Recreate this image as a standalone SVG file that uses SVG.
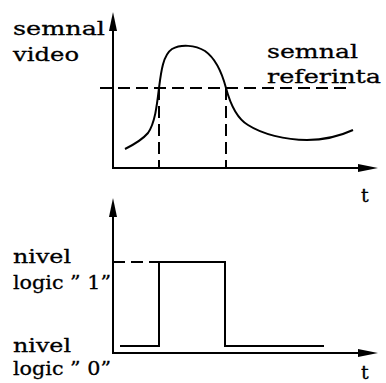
<svg xmlns="http://www.w3.org/2000/svg" width="386" height="383" viewBox="0 0 386 383">
<style>
.ax{stroke:#000;stroke-width:2;fill:none}
.ds{stroke:#000;stroke-width:2;fill:none;stroke-dasharray:12,6}
.ln{stroke:#000;stroke-width:2;fill:none}
.tx{font-family:"DejaVu Serif","Liberation Serif",serif;font-size:19px;fill:#000;stroke:#000;stroke-width:0.3}
</style>
<rect width="386" height="383" fill="#fff"/>
<g id="connectors">
  <path class="ax" d="M113,28 V168 H360"/>
  <polygon points="113,12 117,31 109,31" fill="#000"/>
  <polygon points="378,168 358,164 358,172" fill="#000"/>
  <path class="ax" d="M113,214 V353 H360"/>
  <polygon points="113,198 117,217 109,217" fill="#000"/>
  <polygon points="378,353 358,349 358,357" fill="#000"/>
</g>
<g id="video-signal">
  <path class="ln" d="M125,149 C135,144 142,140 148,133 C155,123 157,105 159,88 C161,72 163,55 172,49 C181,44 195,45 205,51 C215,58 222,73 226,88 C230,103 236,118 248,125 C262,134 285,140 307,140 C325,140 340,136 353,130"/>
</g>
<g id="reference-line">
  <path class="ds" d="M100,88 H348"/>
  <path class="ds" d="M159,88 V168"/>
  <path class="ds" d="M226,88 V168"/>
</g>
<g id="logic-signal">
  <path class="ds" d="M113,262 H159"/>
  <path class="ln" d="M120,346 H159 V262 H225 V346 H324"/>
</g>
<g id="labels">
  <text class="tx" x="13" y="35" textLength="92" lengthAdjust="spacingAndGlyphs">semnal</text>
  <text class="tx" x="13" y="61" textLength="66" lengthAdjust="spacingAndGlyphs">video</text>
  <text class="tx" x="267" y="58" textLength="91" lengthAdjust="spacingAndGlyphs">semnal</text>
  <text class="tx" x="267" y="83" textLength="114" lengthAdjust="spacingAndGlyphs">referinta</text>
  <text class="tx" x="361" y="202">t</text>
  <text class="tx" x="13" y="263" textLength="58" lengthAdjust="spacingAndGlyphs">nivel</text>
  <text class="tx" x="13" y="289" textLength="98" lengthAdjust="spacingAndGlyphs">logic ” 1”</text>
  <text class="tx" x="13" y="352" textLength="58" lengthAdjust="spacingAndGlyphs">nivel</text>
  <text class="tx" x="13" y="375" textLength="98" lengthAdjust="spacingAndGlyphs">logic ” 0”</text>
  <text class="tx" x="361" y="379">t</text>
</g>
</svg>
